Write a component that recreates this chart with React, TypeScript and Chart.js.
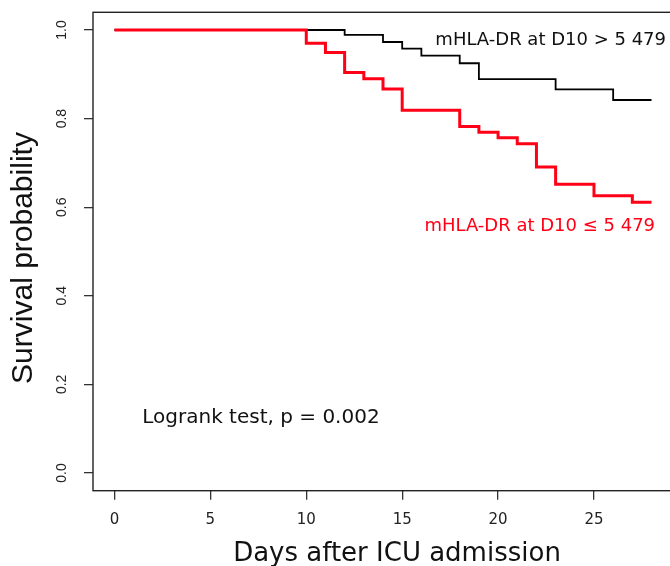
import React, { useEffect, useRef } from "react";
import { Chart, registerables } from "chart.js";

Chart.register(...registerables);

// Kaplan-Meier data
const highTimes = [0, 12, 14, 15, 16, 18, 19, 23, 26, 28];
const highSurv = [1.0, 0.989, 0.973, 0.958, 0.942, 0.925, 0.889, 0.866, 0.842, 0.842];
const lowTimes = [0, 10, 11, 12, 13, 14, 15, 18, 19, 20, 21, 22, 23, 25, 27, 28];
const lowSurv = [1.0, 0.97, 0.949, 0.904, 0.89, 0.867, 0.819, 0.782, 0.769, 0.757, 0.743, 0.691, 0.652, 0.626, 0.611, 0.611];
const xTicks = [0, 5, 10, 15, 20, 25];
const yTicks = [0, 0.2, 0.4, 0.6, 0.8, 1.0];

const highLabel = "mHLA-DR at D10 > 5 479";
const lowLabel = "mHLA-DR at D10 \u2264 5 479";
const testLabel = "Logrank test, p = 0.002";
const xTitle = "Days after ICU admission";
const yTitle = "Survival probability";

const RED = "rgb(255,0,22)";
const VERDANA = '"DejaVu Sans", Verdana, sans-serif';
const ARIAL = '"Liberation Sans", Arial, sans-serif';

const decorPlugin = {
  id: "decor",
  afterDraw(chart: any) {
    const { ctx, chartArea } = chart;
    const xs = chart.scales.x;
    const ys = chart.scales.y;
    ctx.save();
    // box
    ctx.strokeStyle = "#222";
    ctx.lineWidth = 1.4;
    ctx.strokeRect(chartArea.left, chartArea.top, chartArea.right - chartArea.left, chartArea.bottom - chartArea.top);

    // annotations
    ctx.textBaseline = "alphabetic";
    ctx.textAlign = "left";
    ctx.fillStyle = "#111";
    ctx.font = `18px ${VERDANA}`;
    ctx.fillText(highLabel, xs.getPixelForValue(16.73), ys.getPixelForValue(0.967));
    ctx.fillStyle = RED;
    ctx.fillText(lowLabel, xs.getPixelForValue(16.16), ys.getPixelForValue(0.547));
    ctx.fillStyle = "#111";
    ctx.font = `20px ${VERDANA}`;
    ctx.fillText(testLabel, xs.getPixelForValue(1.45), ys.getPixelForValue(0.113));

    // axis titles
    ctx.fillStyle = "#111";
    ctx.font = `26px ${VERDANA}`;
    ctx.textAlign = "center";
    ctx.fillText(xTitle, 397, 560.5);

    ctx.font = `30px ${ARIAL}`;
    ctx.translate(32, 258);
    ctx.rotate(-Math.PI / 2);
    ctx.textAlign = "center";
    ctx.fillText(yTitle, 0, 0);
    ctx.restore();
  },
};

export default function App() {
  const ref = useRef<HTMLCanvasElement>(null);

  useEffect(() => {
    if (!ref.current) return;
    const chart = new Chart(ref.current, {
      type: "line",
      data: {
        datasets: [
          {
            label: lowLabel,
            data: lowTimes.map((t, i) => ({ x: t, y: lowSurv[i] })),
            borderColor: RED,
            borderWidth: 3,
            stepped: "before",
            pointRadius: 0,
            fill: false,
          },
          {
            label: highLabel,
            data: highTimes.map((t, i) => ({ x: t, y: highSurv[i] })),
            borderColor: "#000",
            borderWidth: 1.8,
            stepped: "before",
            pointRadius: 0,
            fill: false,
          },
        ],
      },
      options: {
        animation: false,
        responsive: false,
        layout: { padding: { top: 12.3, right: 7, left: 0, bottom: 0 } },
        plugins: { legend: { display: false }, tooltip: { enabled: false } },
        scales: {
          x: {
            type: "linear",
            min: -1.12,
            max: 29.12,
            afterBuildTicks: (s: any) => {
              s.ticks = xTicks.map((v) => ({ value: v }));
            },
            afterFit: (s: any) => {
              s.height = 75.3;
              s.paddingLeft = 0;
              s.paddingRight = 0;
            },
            grid: { display: true, drawOnChartArea: false, drawTicks: true, tickLength: 9, color: "#333", lineWidth: 1.3 },
            border: { display: false },
            ticks: {
              font: { family: VERDANA, size: 15 },
              color: "#222",
              padding: 11,
              minRotation: 0,
              maxRotation: 0,
              callback: (v: any) => String(v),
            },
          },
          y: {
            type: "linear",
            min: -0.04,
            max: 1.04,
            afterBuildTicks: (s: any) => {
              s.ticks = yTicks.map((v) => ({ value: v }));
            },
            afterFit: (s: any) => {
              s.width = 93;
              s.paddingTop = 0;
              s.paddingBottom = 0;
            },
            grid: { display: true, drawOnChartArea: false, drawTicks: true, tickLength: 9, color: "#333", lineWidth: 1.3 },
            border: { display: false },
            ticks: {
              font: { family: ARIAL, size: 14 },
              color: "#222",
              padding: 12,
              minRotation: 90,
              maxRotation: 90,
              crossAlign: "center",
              callback: (v: any) => Number(v).toFixed(1),
            },
          },
        },
      },
      plugins: [decorPlugin],
    } as any);
    return () => chart.destroy();
  }, []);

  return (
    <div style={{ position: "fixed", left: 0, top: 0, width: 670, height: 566, overflow: "hidden", background: "#fff" }}>
      <canvas ref={ref} width={680} height={566} style={{ display: "block" }} />
    </div>
  );
}
